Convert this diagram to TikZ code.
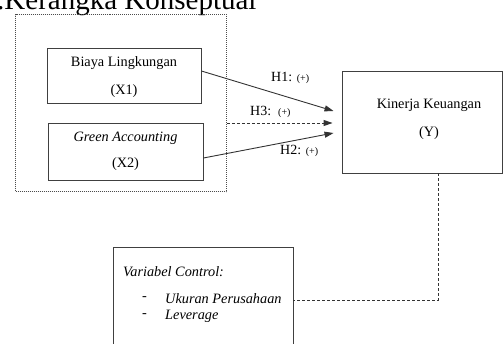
\documentclass[tikz,border=0pt]{standalone}
\usepackage{fontspec}
\setmainfont{Liberation Serif}
\usetikzlibrary{arrows.meta,calc}
\begin{document}
\begin{tikzpicture}[x=1pt,y=-1pt,
  box/.style={draw=black!75,line width=0.9pt,rectangle,inner sep=0pt},
  txt/.style={inner sep=0pt,font=\fontsize{14.3}{16}\selectfont},
  lbl/.style={inner sep=0pt,font=\fontsize{14}{16}\selectfont},
  arr/.style={draw=black!80,line width=0.9pt,-{Triangle[length=9pt,width=6pt]}},
  dsh/.style={draw=black!80,line width=0.8pt,dash pattern=on 3pt off 2pt}]
\useasboundingbox (0,0) rectangle (503,343);
\clip (0,0) rectangle (503,343);
% title (cut at the top)
\node[anchor=base west,inner sep=0pt,font=\fontsize{29}{32}\selectfont] (title) at (-3,9) {.Kerangka Konseptual};
% outer dotted group
\node[draw=black!70,line width=0.7pt,dash pattern=on 1pt off 1pt,minimum width=211pt,minimum height=177pt,inner sep=0pt] (grp) at (121,103) {};
% boxes
\node[box,minimum width=154pt,minimum height=55pt] (x1) at (124,75.5) {};
\node[box,minimum width=155pt,minimum height=57pt] (x2) at (125.5,151.5) {};
\node[box,minimum width=160pt,minimum height=102pt] (y) at (422,122) {};
\node[box,minimum width=180pt,minimum height=110pt] (c) at (203,302) {};
% texts
\node[txt] (x1a) at (124,63) {Biaya Lingkungan};
\node[txt] (x1b) at (124,91) {(X1)};
\node[txt] (x2a) at (125.5,138) {\itshape Green Accounting};
\node[txt] (x2b) at (125.5,164) {(X2)};
\node[txt] (ya) at (429,105) {Kinerja Keuangan};
\node[txt] (yb) at (429,133) {(Y)};
\node[txt,anchor=west] (ca) at (123,272) {\itshape Variabel Control:};
\node[txt,anchor=west] (cd1) at (142,299) {-};
\node[txt,anchor=west] (ci1) at (165,299) {\itshape Ukuran Perusahaan};
\node[txt,anchor=west] (cd2) at (142,316) {-};
\node[txt,anchor=west] (ci2) at (165,316) {\itshape Leverage};
% connectors
\coordinate (h1s) at ($(x1.east)+(0,-4.5)$);
\coordinate (h1e) at ($(y.west)+(-8,-11)$);
\coordinate (h3s) at ($(grp.east)+(0,20)$);
\coordinate (h3e) at ($(y.west)+(-9,1)$);
\coordinate (h2s) at ($(x2.east)+(0,6.5)$);
\coordinate (h2e) at ($(y.west)+(-8,11)$);
\draw[arr] (h1s) -- (h1e);
\draw[arr,dash pattern=on 3pt off 2pt] (h3s) -- (h3e);
\draw[arr] (h2s) -- (h2e);
\coordinate (yd) at ($(y.south)+(16,0)$);
\coordinate (cr) at ($(c.east)+(0,-2)$);
\draw[dsh] (yd) |- (cr);
% labels
\node[lbl,anchor=west] (l1) at (271,78) {H1: {\fontsize{10}{11}\selectfont(+)}};
\node[lbl,anchor=west] (l3) at (250,112) {H3:\ \ {\fontsize{10}{11}\selectfont(+)}};
\node[lbl,anchor=west] (l2) at (280,151) {H2: {\fontsize{10}{11}\selectfont(+)}};
\end{tikzpicture}
\end{document}
